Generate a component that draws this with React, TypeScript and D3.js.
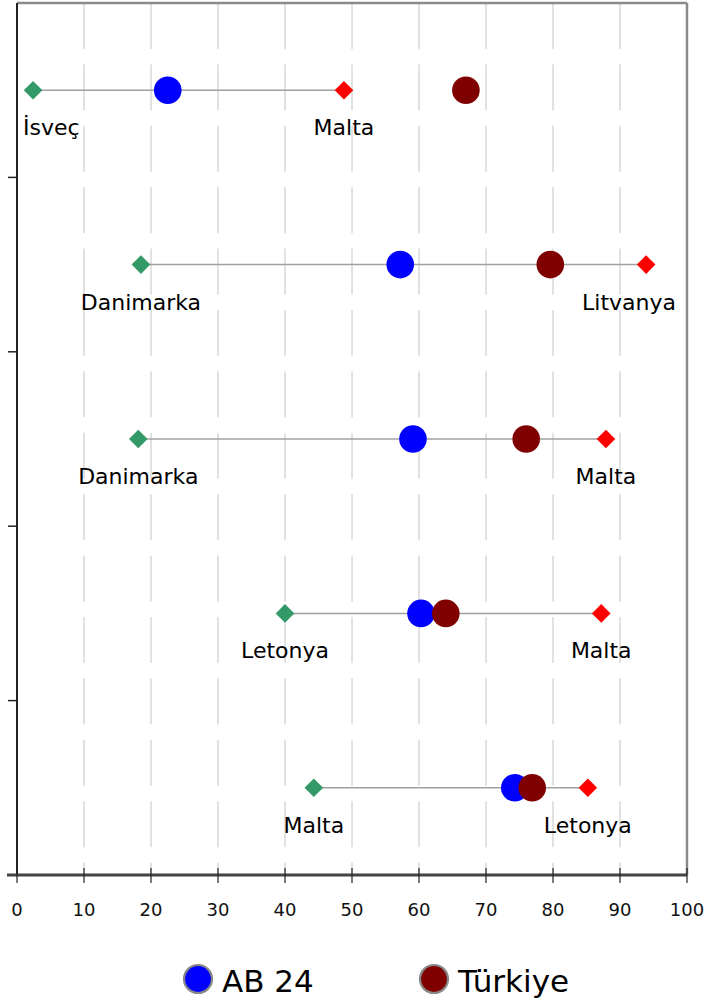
import React, { useEffect, useRef } from "react";
import * as d3 from "d3";

const minCountry = ["İsveç", "Danimarka", "Danimarka", "Letonya", "Malta"];
const minValue = [2.4, 18.5, 18.1, 40.0, 44.3];
const maxCountry = ["Malta", "Litvanya", "Malta", "Malta", "Letonya"];
const maxValue = [48.8, 93.9, 87.9, 87.2, 85.2];
const ab24 = [22.5, 57.2, 59.1, 60.3, 74.3];
const turkiye = [67.0, 79.6, 76.0, 64.0, 76.9];
const xTicks = [0, 10, 20, 30, 40, 50, 60, 70, 80, 90, 100];
const legendNames = ["AB 24", "Türkiye"];

const W = 704;
const H = 1004;
const font = "'DejaVu Sans', Verdana, sans-serif";

export default function App() {
  const ref = useRef<SVGSVGElement>(null);

  useEffect(() => {
    const svg = d3.select(ref.current);
    svg.selectAll("*").remove();

    const left = 17, right = 687, top = 3, bottom = 875;
    const x = d3.scaleLinear().domain([0, 100]).range([left, right]);
    const rows = d3.range(minValue.length);
    const y = d3.scaleBand<number>().domain(rows).range([top, bottom]);
    const cy = (i: number) => (y(i) as number) + y.bandwidth() / 2;

    // grid
    svg.append("g")
      .selectAll("line")
      .data(xTicks.slice(1, -1))
      .join("line")
      .attr("x1", d => x(d)).attr("x2", d => x(d))
      .attr("y1", top).attr("y2", bottom)
      .attr("stroke", "#c4c4c4").attr("stroke-width", 1)
      .attr("stroke-dasharray", "46 15.4");

    // frame top / right
    svg.append("line").attr("x1", left).attr("x2", right).attr("y1", top).attr("y2", top)
      .attr("stroke", "#8a8a8a").attr("stroke-width", 2.5);
    svg.append("line").attr("x1", right).attr("x2", right).attr("y1", top).attr("y2", bottom)
      .attr("stroke", "#8a8a8a").attr("stroke-width", 2.5);

    // left axis
    svg.append("line").attr("x1", left).attr("x2", left).attr("y1", top).attr("y2", bottom)
      .attr("stroke", "#222").attr("stroke-width", 2);
    svg.append("g")
      .selectAll("line")
      .data(rows.slice(1))
      .join("line")
      .attr("x1", 8).attr("x2", left)
      .attr("y1", d => y(d) as number).attr("y2", d => y(d) as number)
      .attr("stroke", "#222").attr("stroke-width", 1.5);

    // bottom axis
    svg.append("line").attr("x1", 7).attr("x2", right).attr("y1", bottom).attr("y2", bottom)
      .attr("stroke", "#444").attr("stroke-width", 3);
    svg.append("g")
      .selectAll("line")
      .data(xTicks)
      .join("line")
      .attr("x1", d => x(d)).attr("x2", d => x(d))
      .attr("y1", bottom - 7).attr("y2", bottom + 8)
      .attr("stroke", "#222").attr("stroke-width", 1.2);
    svg.append("g")
      .selectAll("text")
      .data(xTicks)
      .join("text")
      .attr("x", d => x(d)).attr("y", 916)
      .attr("text-anchor", "middle")
      .attr("font-family", font).attr("font-size", 18).attr("fill", "#111")
      .text(d => String(d));

    // range lines
    svg.append("g")
      .selectAll("line")
      .data(rows)
      .join("line")
      .attr("x1", i => x(minValue[i])).attr("x2", i => x(maxValue[i]))
      .attr("y1", cy).attr("y2", cy)
      .attr("stroke", "#a0a0a0").attr("stroke-width", 1.5);

    const diamond = (cx: number, cyy: number, r: number) =>
      `M${cx},${cyy - r}L${cx + r},${cyy}L${cx},${cyy + r}L${cx - r},${cyy}Z`;

    svg.append("g").selectAll("path").data(rows).join("path")
      .attr("d", i => diamond(x(minValue[i]), cy(i), 9.3)).attr("fill", "#339966");
    svg.append("g").selectAll("path").data(rows).join("path")
      .attr("d", i => diamond(x(maxValue[i]), cy(i), 9.3)).attr("fill", "#ff0000");

    svg.append("g").selectAll("circle").data(rows).join("circle")
      .attr("cx", i => x(ab24[i])).attr("cy", cy).attr("r", 13.8).attr("fill", "#0000ff");
    svg.append("g").selectAll("circle").data(rows).join("circle")
      .attr("cx", i => x(turkiye[i])).attr("cy", cy).attr("r", 13.8).attr("fill", "#800000");

    // labels under diamonds, kept inside the plot
    const labels: { name: string; v: number; i: number }[] = [];
    rows.forEach(i => {
      labels.push({ name: minCountry[i], v: minValue[i], i });
      labels.push({ name: maxCountry[i], v: maxValue[i], i });
    });
    svg.append("g").selectAll("text").data(labels).join("text")
      .attr("y", d => cy(d.i) + 45)
      .attr("font-family", font).attr("font-size", 22).attr("fill", "#000")
      .text(d => d.name)
      .each(function (d) {
        const el = this as SVGTextElement;
        const w = el.getComputedTextLength();
        let sx = x(d.v) - w / 2;
        sx = Math.max(left + 6, Math.min(right - 11 - w, sx));
        el.setAttribute("x", String(sx));
      });

    // legend
    const legendX = [198, 434];
    const legendColors = ["#0000ff", "#800000"];
    const lg = svg.append("g");
    legendNames.forEach((name, k) => {
      lg.append("circle").attr("cx", legendX[k]).attr("cy", 979).attr("r", 14)
        .attr("fill", legendColors[k]).attr("stroke", "#888").attr("stroke-width", 2.2);
      lg.append("text").attr("x", legendX[k] + 24).attr("y", 992)
        .attr("font-family", font).attr("font-size", 31).attr("fill", "#000")
        .text(name);
    });
  }, []);

  return (
    <svg
      ref={ref}
      width={W}
      height={H}
      style={{ position: "absolute", left: 0, top: 0, background: "#fff" }}
    />
  );
}
